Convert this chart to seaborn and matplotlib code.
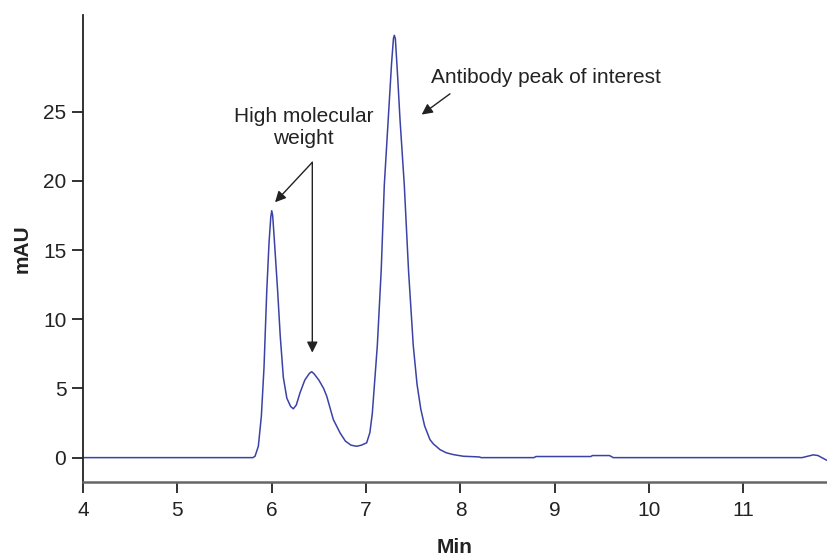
import matplotlib
matplotlib.use("Agg")
import matplotlib.pyplot as plt
import seaborn as sns
import pandas as pd

# --- data ---
time_min = [4.00, 5.80, 5.823, 5.858, 5.89, 5.918, 5.947, 5.971, 5.99, 6.00, 6.01,
            6.027, 6.063, 6.09, 6.123, 6.16, 6.20, 6.229, 6.26, 6.30, 6.35, 6.40,
            6.424, 6.45, 6.50, 6.55, 6.583, 6.653, 6.724, 6.78, 6.84, 6.90, 6.95,
            7.006, 7.04, 7.066, 7.119, 7.16, 7.193, 7.235, 7.27, 7.29, 7.299, 7.31,
            7.335, 7.359, 7.405, 7.45, 7.50, 7.54, 7.58, 7.62, 7.677, 7.712, 7.783,
            7.85, 7.924, 8.03, 8.20, 8.22, 8.78, 8.80, 9.38, 9.40, 9.58, 9.62,
            11.62, 11.68, 11.74, 11.79, 11.83, 11.885]
mau = [0.0, 0.0, 0.1, 0.82, 3.0, 6.5, 12.0, 15.5, 17.4, 17.85, 17.5,
       15.8, 12.0, 8.8, 5.8, 4.3, 3.7, 3.53, 3.8, 4.69, 5.6, 6.1,
       6.21, 6.05, 5.6, 5.0, 4.44, 2.75, 1.79, 1.2, 0.9, 0.82, 0.9,
       1.07, 1.8, 3.2, 8.1, 13.5, 19.7, 24.5, 28.5, 30.3, 30.53, 30.3,
       27.5, 24.5, 19.7, 13.5, 8.1, 5.3, 3.5, 2.3, 1.3, 1.0, 0.58,
       0.35, 0.22, 0.1, 0.05, 0.0, 0.0, 0.08, 0.08, 0.15, 0.15, 0.0,
       0.0, 0.1, 0.2, 0.15, 0.0, -0.2]
x_ticks = [4, 5, 6, 7, 8, 9, 10, 11]
y_ticks = [0, 5, 10, 15, 20, 25]

df = pd.DataFrame({"Min": time_min, "mAU": mau})

sns.set_theme(style="ticks")
plt.rcParams["font.family"] = ["Liberation Sans", "DejaVu Sans"]

fig = plt.figure(figsize=(8.27, 5.57), dpi=100)
ax = fig.add_axes([0.1004, 0.1347, 0.8996, 0.8384])

sns.lineplot(data=df, x="Min", y="mAU", ax=ax, color="#3b42a6",
             linewidth=1.1, sort=False)

ax.set_xlim(4, 11.885)
ax.set_ylim(-1.76, 32.0)
ax.set_xticks(x_ticks)
ax.set_yticks(y_ticks)
ax.set_xticklabels([str(t) for t in x_ticks])
ax.set_yticklabels([str(t) for t in y_ticks])

for s in ["top", "right"]:
    ax.spines[s].set_visible(False)
ax.spines["left"].set_color("#222222")
ax.spines["left"].set_linewidth(1.3)
ax.spines["bottom"].set_color("#666666")
ax.spines["bottom"].set_linewidth(1.8)
ax.tick_params(axis="both", direction="out", length=8, width=1.3,
               colors="#222222", labelsize=15, labelcolor="#222222")
ax.tick_params(axis="y", pad=4)
ax.tick_params(axis="x", pad=6)

ax.set_xlabel("Min", fontsize=15, fontweight="bold", color="#222222", labelpad=13)
ax.set_ylabel("mAU", fontsize=15, fontweight="bold", color="#222222", labelpad=8)

# annotations
ax.text(6.339, 25.35, "High molecular\nweight", ha="center", va="top",
        fontsize=15, color="#222222", linespacing=1.2)
arrow_kw = dict(arrowstyle="-|>", color="#222222", lw=1.0, shrinkA=0, shrinkB=0,
                mutation_scale=16)
ax.annotate("", xy=(6.035, 18.46), xytext=(6.430, 21.35), arrowprops=arrow_kw)
ax.annotate("", xy=(6.430, 7.59), xytext=(6.430, 21.35), arrowprops=arrow_kw)

ax.text(7.685, 27.05, "Antibody peak of interest", ha="left", va="baseline",
        fontsize=15, color="#222222")
ax.annotate("", xy=(7.589, 24.80), xytext=(7.889, 26.30), arrowprops=arrow_kw)

fig.savefig("out.png", dpi=100)
